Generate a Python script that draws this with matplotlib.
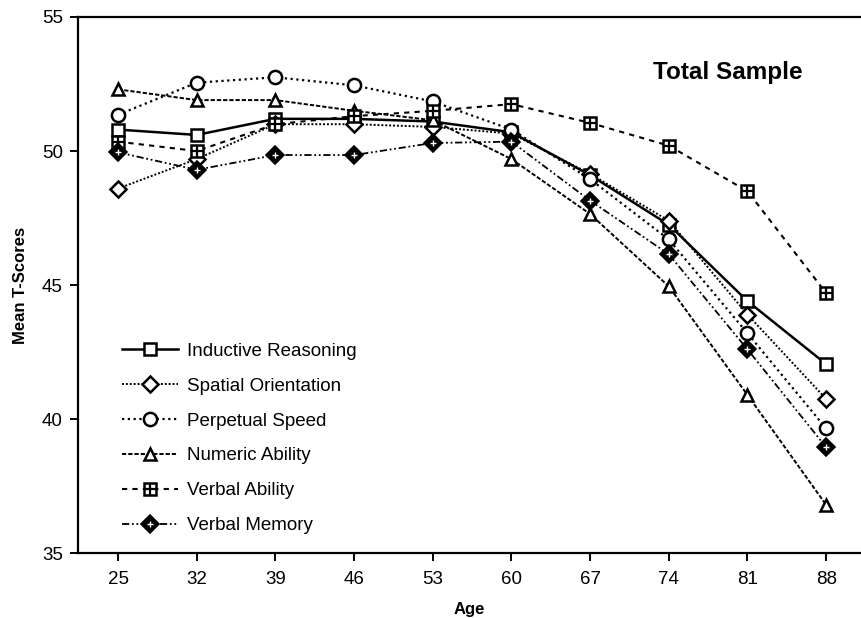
import matplotlib
matplotlib.use("Agg")
from matplotlib import pyplot as plt
from matplotlib.legend_handler import HandlerTuple

plt.rcParams['font.family'] = ['Liberation Sans', 'DejaVu Sans']

ages = [25, 32, 39, 46, 53, 60, 67, 74, 81, 88]
inductive = [50.8, 50.6, 51.2, 51.2, 51.1, 50.7, 49.1, 47.25, 44.4, 42.05]
spatial = [48.6, 49.7, 51.0, 51.0, 50.9, 50.65, 49.15, 47.4, 43.9, 40.75]
perceptual = [51.35, 52.55, 52.75, 52.45, 51.85, 50.8, 48.95, 46.7, 43.2, 39.65]
numeric = [52.3, 51.9, 51.9, 51.5, 51.15, 49.7, 47.65, 44.95, 40.9, 36.8]
verbal_ability = [50.35, 50.0, 51.0, 51.3, 51.5, 51.75, 51.05, 50.2, 48.5, 44.7]
verbal_memory = [49.95, 49.3, 49.85, 49.85, 50.3, 50.35, 48.15, 46.15, 42.6, 38.95]

fig = plt.figure(figsize=(8.61, 6.18), dpi=100)
ax = fig.add_axes([0.0906, 0.105, 0.9094, 0.8675])

ms = 9
mew = 1.8
h1, = ax.plot(ages, inductive, color='black', lw=1.8, ls='-', marker='s',
              ms=ms, mfc='white', mec='black', mew=mew)
h2, = ax.plot(ages, spatial, color='black', lw=1.4, ls=(0, (1, 1)), marker='D',
              ms=ms - 1, mfc='white', mec='black', mew=mew)
h3, = ax.plot(ages, perceptual, color='black', lw=1.6, ls=(0, (1, 1.6)), marker='o',
              ms=ms + 0.5, mfc='white', mec='black', mew=mew)
h4, = ax.plot(ages, numeric, color='black', lw=1.4, ls=(0, (2.2, 1)), marker='^',
              ms=ms, mfc='white', mec='black', mew=mew)
h5, = ax.plot(ages, verbal_ability, color='black', lw=1.5, ls=(0, (2.5, 2.5)), marker='s',
              ms=ms, mfc='white', mec='black', mew=mew)
h5b, = ax.plot(ages, verbal_ability, ls='none', marker='+', ms=ms - 1, mec='black', mew=1.6)
h6, = ax.plot(ages, verbal_memory, color='black', lw=1.3, ls=(0, (4, 1.5, 1, 1.5, 1, 1.5)),
              marker='D', ms=ms, mfc='black', mec='black', mew=1.2)
h6b, = ax.plot(ages, verbal_memory, ls='none', marker='+', ms=4.5, mec='white', mew=1.0)

ax.set_xlim(21.44, 91.1)
ax.set_ylim(35, 55)
ax.set_xticks(ages)
ax.set_yticks([35, 40, 45, 50, 55])
ax.spines['right'].set_visible(False)
for s in ['left', 'bottom', 'top']:
    ax.spines[s].set_linewidth(1.6)
ax.tick_params(direction='out', length=6, width=1.4, labelsize=13.5, pad=5)
ax.tick_params(axis='x', top=False, pad=7)

ax.set_xlabel('Age', fontsize=12, fontweight='bold', labelpad=10)
ax.set_ylabel('Mean T-Scores', fontsize=12, fontweight='bold', labelpad=10)

ax.text(0.83, 0.897, 'Total Sample', transform=ax.transAxes, fontsize=17.5,
        fontweight='bold', ha='center', va='center')

labels = ['Inductive Reasoning', 'Spatial Orientation', 'Perpetual Speed',
          'Numeric Ability', 'Verbal Ability', 'Verbal Memory']
ax.legend([h1, h2, h3, h4, (h5, h5b), (h6, h6b)], labels,
          handler_map={tuple: HandlerTuple(ndivide=1)},
          loc='lower left', bbox_to_anchor=(0.056, 0.035), frameon=False,
          borderaxespad=0, borderpad=0,
          fontsize=13.5, handlelength=3.0, labelspacing=0.95, handletextpad=0.45)

fig.savefig('out.png', dpi=100)
